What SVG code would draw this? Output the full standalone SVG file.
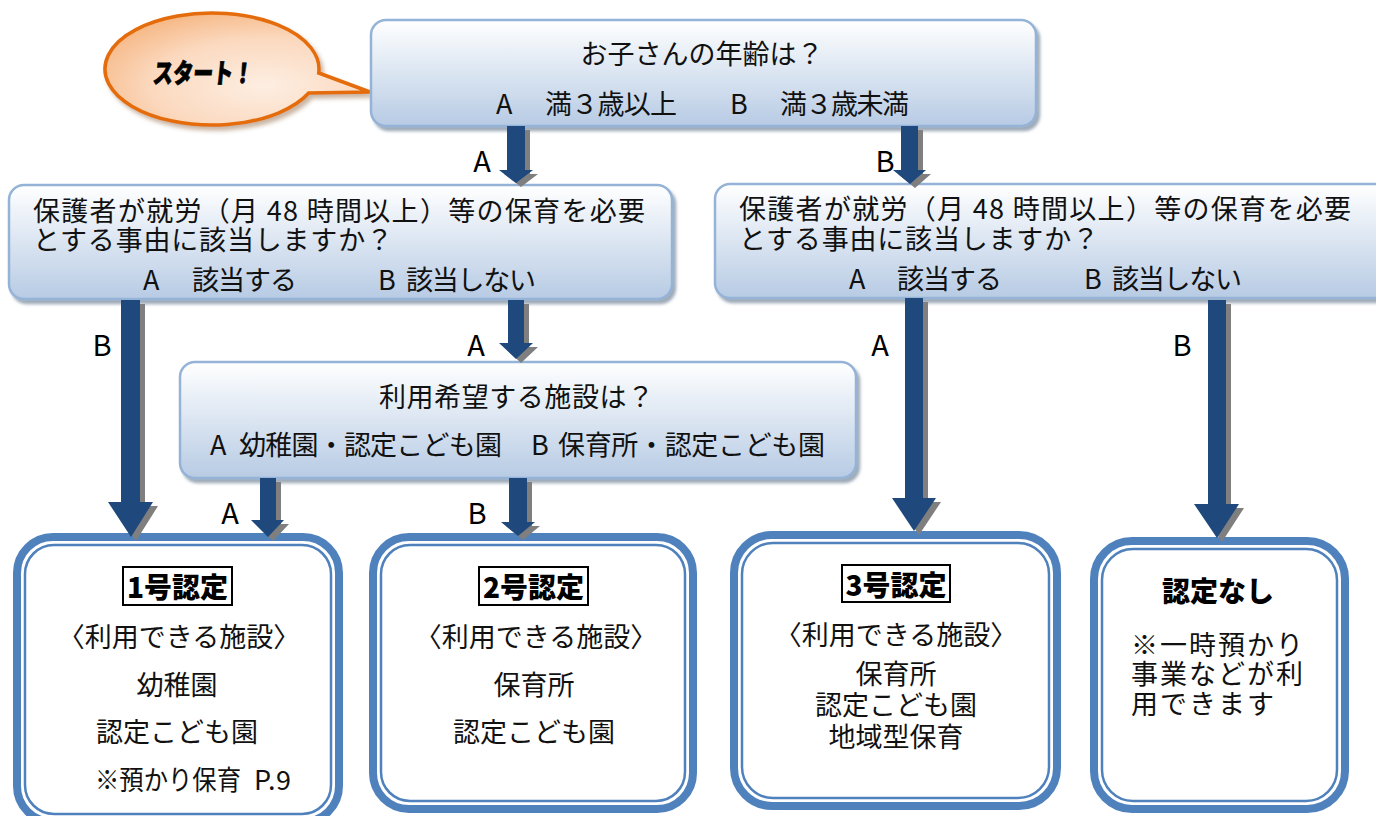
<svg xmlns="http://www.w3.org/2000/svg" width="1376" height="816" viewBox="0 0 1376 816">
<defs>
<linearGradient id="qgrad" x1="0" y1="0" x2="0" y2="1">
<stop offset="0" stop-color="#FFFFFF"/>
<stop offset="1" stop-color="#B7CBE4"/>
</linearGradient>
<radialGradient id="bgrad" cx="0.6" cy="0.65" r="0.7">
<stop offset="0" stop-color="#FDEEE2"/>
<stop offset="0.6" stop-color="#FBD9BF"/>
<stop offset="1" stop-color="#F6B886"/>
</radialGradient>
<filter id="sh" x="-5%" y="-10%" width="115%" height="130%">
<feDropShadow dx="3" dy="4" stdDeviation="1.5" flood-color="#4F6680" flood-opacity="0.55"/>
</filter>
<filter id="bsh" x="-10%" y="-10%" width="125%" height="130%">
<feDropShadow dx="3" dy="4" stdDeviation="2" flood-color="#8A5A30" flood-opacity="0.45"/>
</filter>
</defs>
<style>
.q{fill:url(#qgrad);stroke:#95B3D7;stroke-width:2.5}
.t{font-family:"Noto Sans CJK JP","Noto Sans",sans-serif;font-size:27px;fill:#111;dominant-baseline:central}
.c{text-anchor:middle}
.lab{font-family:"Noto Sans CJK JP","Noto Sans",sans-serif;font-size:29px;fill:#000;text-anchor:middle;dominant-baseline:central}
.ro{fill:#fff;stroke:#4F81BD;stroke-width:8}
.ri{fill:none;stroke:#4F81BD;stroke-width:2.5}
.ttl{font-family:"Noto Sans CJK JP","Noto Sans",sans-serif;font-size:28px;font-weight:900;fill:#000;text-anchor:middle;dominant-baseline:central}
.tb{fill:#fff;stroke:#000;stroke-width:2}
.ar{fill:#1F497D}
.as{fill:#7F7F7F}
</style>

<g id="start">
<path d="M318.7,73 L370,92 L308.7,93 A107,56 0 1 1 318.7,73 Z" fill="url(#bgrad)" stroke="#E46C0A" stroke-width="3.5" filter="url(#bsh)"/>
<text x="153" y="72" font-family="'Noto Sans CJK JP',sans-serif" font-size="27" font-weight="900" fill="#000" stroke="#000" stroke-width="0.8" dominant-baseline="central" textLength="100" lengthAdjust="spacingAndGlyphs" transform="skewX(-6) translate(8,0)">スタート！</text>
</g>

<g id="q-age">
<rect class="q" x="371" y="20" width="665" height="106" rx="15" filter="url(#sh)"/>
<text class="t c" x="702" y="52">お子さんの年齢は？</text>
<text class="t" x="496" y="102">A</text>
<text class="t" x="545" y="102" textLength="132">満３歳以上</text>
<text class="t" x="730" y="102">B</text>
<text class="t" x="780" y="102" textLength="129">満３歳未満</text>
</g>

<g id="q-work-left">
<rect class="q" x="9" y="185" width="663" height="114" rx="15" filter="url(#sh)"/>
<text class="t" x="33" y="209" textLength="612">保護者が就労（月 48 時間以上）等の保育を必要</text>
<text class="t" x="33" y="238" textLength="360">とする事由に該当しますか？</text>
<text class="t" x="143" y="278">A</text>
<text class="t" x="192" y="278" textLength="105">該当する</text>
<text class="t" x="378" y="278">B</text>
<text class="t" x="406" y="278" textLength="130">該当しない</text>
</g>

<g id="q-work-right">
<rect class="q" x="715" y="184" width="675" height="114" rx="15" filter="url(#sh)"/>
<text class="t" x="739" y="207" textLength="612">保護者が就労（月 48 時間以上）等の保育を必要</text>
<text class="t" x="739" y="237" textLength="360">とする事由に該当しますか？</text>
<text class="t" x="849" y="277">A</text>
<text class="t" x="897" y="277" textLength="105">該当する</text>
<text class="t" x="1084" y="277">B</text>
<text class="t" x="1112" y="277" textLength="130">該当しない</text>
</g>

<g id="q-facility">
<rect class="q" x="180" y="362" width="676" height="116" rx="15" filter="url(#sh)"/>
<text class="t" x="379" y="395" textLength="275">利用希望する施設は？</text>
<text class="t" x="210" y="443">A</text>
<text class="t" x="239" y="443" textLength="263">幼稚園・認定こども園</text>
<text class="t" x="531" y="443">B</text>
<text class="t" x="558" y="443" textLength="267">保育所・認定こども園</text>
</g>

<g id="r1">
<rect class="ro" x="17" y="537" width="322" height="285" rx="36"/>
<rect class="ri" x="25" y="545" width="306" height="269" rx="29"/>
<rect class="tb" x="123" y="567" width="109" height="38"/>
<text class="ttl" x="177.5" y="586">1号認定</text>
<text class="t c" x="179" y="635">〈利用できる施設〉</text>
<text class="t c" x="177" y="683">幼稚園</text>
<text class="t c" x="177" y="730">認定こども園</text>
<text class="t" x="95" y="778" font-size="26" textLength="146" lengthAdjust="spacingAndGlyphs">※預かり保育</text>
<text class="t" x="254" y="778" textLength="37">P.9</text>
</g>

<g id="r2">
<rect class="ro" x="373" y="537" width="320" height="272" rx="36"/>
<rect class="ri" x="381" y="545" width="304" height="256" rx="29"/>
<rect class="tb" x="479" y="567" width="109" height="38"/>
<text class="ttl" x="533.5" y="586">2号認定</text>
<text class="t c" x="536" y="635">〈利用できる施設〉</text>
<text class="t c" x="534" y="683">保育所</text>
<text class="t c" x="534" y="730">認定こども園</text>
</g>

<g id="r3">
<rect class="ro" x="734" y="535" width="323" height="271" rx="38"/>
<rect class="ri" x="742" y="543" width="307" height="255" rx="31"/>
<rect class="tb" x="842" y="565" width="108" height="37"/>
<text class="ttl" x="896" y="583.5">3号認定</text>
<text class="t c" x="896" y="633">〈利用できる施設〉</text>
<text class="t c" x="896" y="672">保育所</text>
<text class="t c" x="896" y="703">認定こども園</text>
<text class="t c" x="896" y="735">地域型保育</text>
</g>

<g id="r4">
<rect class="ro" x="1094" y="541" width="251" height="268" rx="38"/>
<rect class="ri" x="1102" y="549" width="235" height="252" rx="31"/>
<text class="ttl" x="1218" y="590">認定なし</text>
<text class="t" x="1131" y="643" textLength="172">※一時預かり</text>
<text class="t" x="1131" y="672" textLength="172">事業などが利</text>
<text class="t" x="1131" y="702" textLength="143">用できます</text>
</g>

<g id="connectors">
<g transform="translate(5,4)">
<polygon class="as" points="507,126 525,126 525,170 533,170 516,183 499,170 507,170"/>
<polygon class="as" points="901,126 918,126 918,170 926,170 910,184 893,170 901,170"/>
<polygon class="as" points="121,300 140,300 140,502 153,502 131,537 108,502 121,502"/>
<polygon class="as" points="508,300 524,300 524,343 533,343 516,359 499,343 508,343"/>
<polygon class="as" points="260,478 276,478 276,520 284,520 268,537 251,520 260,520"/>
<polygon class="as" points="509,478 527,478 527,522 535,522 518,536 501,522 509,522"/>
<polygon class="as" points="905,298 923,298 923,498 936,498 914,531 892,498 905,498"/>
<polygon class="as" points="1208,300 1226,300 1226,504 1239,504 1217,538 1194,504 1208,504"/>
</g>
<polygon class="ar" points="507,126 525,126 525,170 533,170 516,183 499,170 507,170"/>
<polygon class="ar" points="901,126 918,126 918,170 926,170 910,184 893,170 901,170"/>
<polygon class="ar" points="121,300 140,300 140,502 153,502 131,537 108,502 121,502"/>
<polygon class="ar" points="508,300 524,300 524,343 533,343 516,359 499,343 508,343"/>
<polygon class="ar" points="260,478 276,478 276,520 284,520 268,537 251,520 260,520"/>
<polygon class="ar" points="509,478 527,478 527,522 535,522 518,536 501,522 509,522"/>
<polygon class="ar" points="905,298 923,298 923,498 936,498 914,531 892,498 905,498"/>
<polygon class="ar" points="1208,300 1226,300 1226,504 1239,504 1217,538 1194,504 1208,504"/>
<text class="lab" x="482" y="159">A</text>
<text class="lab" x="885" y="159">B</text>
<text class="lab" x="102" y="343">B</text>
<text class="lab" x="476" y="343">A</text>
<text class="lab" x="880" y="343">A</text>
<text class="lab" x="1182" y="343">B</text>
<text class="lab" x="230" y="511">A</text>
<text class="lab" x="477" y="511">B</text>
</g>
</svg>
